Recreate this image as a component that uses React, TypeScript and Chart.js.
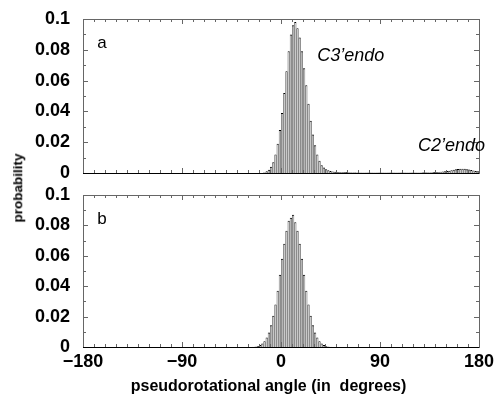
import React, { useEffect, useRef } from "react";
import { Chart, registerables } from "chart.js";

Chart.register(...registerables);

const FONT = '"Liberation Sans", Arial, Helvetica, sans-serif';

// Histogram bins are 2 degrees wide; each array lists bins from its first centre onward.
const BIN_WIDTH = 2;
const X_MIN = -180;
const X_MAX = 180;
const X_STEP = 90;
const Y_MAX = 0.1;
const Y_STEP = 0.02;

// Panel a: centres -15 .. 179
const firstBinA = -15;
const probA = [
  0.0005, 0.0011, 0.0021, 0.004, 0.007, 0.012, 0.019, 0.028, 0.039, 0.052,
  0.066, 0.079, 0.09, 0.096, 0.098, 0.094, 0.088, 0.079, 0.068, 0.057,
  0.045, 0.034, 0.025, 0.018, 0.012, 0.008, 0.005, 0.0035, 0.0025, 0.0018,
  0.0013, 0.001, 0.0008,
  // 51 .. 99
  0.0007, 0.0007, 0.0006, 0.0006, 0.0006, 0.0005, 0.0005, 0.0005, 0.0005, 0.0004,
  0.0004, 0.0004, 0.0004, 0.0004, 0.0004, 0.0003, 0.0003, 0.0003, 0.0003, 0.0003,
  0.0003, 0.0003, 0.0003, 0.0003, 0.0003,
  // 101 .. 139
  0.0003, 0.0003, 0.0003, 0.0003, 0.0003, 0.0003, 0.0003, 0.0003, 0.0004, 0.0004,
  0.0004, 0.0004, 0.0004, 0.0004, 0.0005, 0.0005, 0.0005, 0.0005, 0.0005, 0.0006,
  // 141 .. 179
  0.0006, 0.0007, 0.0008, 0.0009, 0.0011, 0.0013, 0.0015, 0.0018, 0.0021, 0.0024,
  0.0026, 0.0028, 0.0028, 0.0027, 0.0025, 0.0022, 0.0019, 0.0016, 0.0013, 0.0011,
];

// Panel b: centres -25 .. 45
const firstBinB = -25;
const probB = [
  0.0002, 0.0004, 0.0007, 0.0013, 0.0023, 0.0038, 0.0062, 0.0096, 0.0143, 0.0205,
  0.028, 0.037, 0.0475, 0.058, 0.068, 0.0765, 0.083, 0.085, 0.087, 0.082,
  0.0765, 0.068, 0.058, 0.0475, 0.037, 0.028, 0.0205, 0.0143, 0.0096, 0.0062,
  0.0038, 0.0023, 0.0013, 0.0007, 0.0004, 0.0002,
];

type Note = { text: string; x: number; y: number; font: string };

const notesA: Note[] = [
  { text: "a", x: -167, y: 0.081, font: `17px ${FONT}` },
  { text: "C3\u2019endo", x: 33, y: 0.0729, font: `italic 18px ${FONT}` },
  { text: "C2\u2019endo", x: 124.5, y: 0.0145, font: `italic 18px ${FONT}` },
];
const notesB: Note[] = [{ text: "b", x: -167, y: 0.081, font: `17px ${FONT}` }];

function toPoints(first: number, probs: number[]) {
  return probs.map((p, i) => ({ x: first + i * BIN_WIDTH, y: p }));
}

const fmtX = (v: number) => (v < 0 ? "\u2212" + Math.abs(v) : String(v));
const fmtY = (v: number) => String(Number(v.toFixed(2)));

// Keep the plot box exactly where the layout padding puts it.
const noOverhang = (s: any) => {
  s.paddingTop = 0;
  s.paddingBottom = 0;
  s.paddingLeft = 0;
  s.paddingRight = 0;
};

// Inward tick marks on all four sides plus the plot frame and panel notes.
const frameTicks = {
  id: "frameTicks",
  afterDatasetsDraw(chart: any) {
    const { ctx, chartArea, scales } = chart;
    const { left, right, top, bottom } = chartArea;
    const xs = scales.x;
    const ys = scales.y;
    ctx.save();
    ctx.lineWidth = 1;
    ctx.strokeStyle = "#666";
    ctx.beginPath();
    for (let a = X_MIN; a <= X_MAX; a += 10) {
      const px = Math.round(xs.getPixelForValue(a)) + 0.5;
      const len = a % X_STEP === 0 ? 5 : 3;
      ctx.moveTo(px, top);
      ctx.lineTo(px, top + len);
      ctx.moveTo(px, bottom);
      ctx.lineTo(px, bottom - len);
    }
    for (let i = 0; i <= 10; i++) {
      const py = Math.round(ys.getPixelForValue(i * 0.01)) + 0.5;
      const len = i % 2 === 0 ? 5 : 3;
      ctx.moveTo(left, py);
      ctx.lineTo(left + len, py);
      ctx.moveTo(right, py);
      ctx.lineTo(right - len, py);
    }
    ctx.stroke();
    ctx.strokeRect(Math.round(left) + 0.5, Math.round(top) + 0.5, Math.round(right - left), Math.round(bottom - top));
    ctx.strokeStyle = "#000";
    ctx.beginPath();
    ctx.moveTo(left, Math.round(bottom) + 0.5);
    ctx.lineTo(right, Math.round(bottom) + 0.5);
    ctx.stroke();
    ctx.restore();
  },
  afterDraw(chart: any) {
    const notes: Note[] = chart.options.plugins.frameTicks?.notes || [];
    const { ctx, scales } = chart;
    ctx.save();
    ctx.fillStyle = "#000";
    ctx.textAlign = "left";
    ctx.textBaseline = "alphabetic";
    for (const n of notes) {
      ctx.font = n.font;
      ctx.fillText(n.text, scales.x.getPixelForValue(n.x), scales.y.getPixelForValue(n.y));
    }
    ctx.restore();
  },
};

function histogramConfig(first: number, probs: number[], notes: Note[], bottomPanel: boolean, padTop: number, padBottom: number): any {
  return {
    type: "bar",
    data: {
      datasets: [
        {
          data: toPoints(first, probs),
          backgroundColor: "#c8c8c8",
          borderColor: "#000000",
          borderWidth: { top: 1, left: 0.6, right: 0.6, bottom: 0 },
          borderSkipped: false,
          inflateAmount: 0,
          barPercentage: 1,
          categoryPercentage: 1,
        },
      ],
    },
    options: {
      animation: false,
      responsive: true,
      maintainAspectRatio: false,
      layout: { padding: { left: 0, right: 16, top: padTop, bottom: padBottom } },
      plugins: {
        legend: { display: false },
        tooltip: { enabled: false },
        frameTicks: { notes },
      },
      scales: {
        x: {
          type: "linear",
          display: bottomPanel,
          min: X_MIN,
          max: X_MAX,
          offset: false,
          grid: { display: false, drawTicks: false, offset: false },
          border: { display: false },
          ticks: {
            stepSize: X_STEP,
            padding: 4,
            color: "#000",
            maxRotation: 0,
            font: { family: FONT, size: 18, weight: "bold" },
            callback: (v: number) => fmtX(v),
          },
          afterFit: (s: any) => {
            s.height = bottomPanel ? 51 : 0;
            noOverhang(s);
          },
        },
        y: {
          min: 0,
          max: Y_MAX,
          grid: { display: false, drawTicks: false },
          border: { display: false },
          ticks: {
            stepSize: Y_STEP,
            autoSkip: false,
            padding: 13,
            color: "#000",
            font: { family: FONT, size: 18, weight: "bold" },
            callback: (v: number) => fmtY(v),
          },
          afterFit: (s: any) => {
            s.width = 83;
            noOverhang(s);
          },
        },
      },
    },
    plugins: [frameTicks],
  };
}

const axisTitle: React.CSSProperties = {
  position: "absolute",
  whiteSpace: "nowrap",
  color: "#000",
  fontFamily: FONT,
  fontWeight: "bold",
  lineHeight: 1,
};

export default function App() {
  const topRef = useRef<HTMLCanvasElement>(null);
  const bottomRef = useRef<HTMLCanvasElement>(null);

  useEffect(() => {
    const chartA = new Chart(topRef.current!, histogramConfig(firstBinA, probA, notesA, false, 19, 22));
    const chartB = new Chart(bottomRef.current!, histogramConfig(firstBinB, probB, notesB, true, 20, 0));
    return () => {
      chartA.destroy();
      chartB.destroy();
    };
  }, []);

  return (
    <div style={{ position: "fixed", left: 0, top: 0, width: 495, height: 398, background: "#fff" }}>
      <div style={{ position: "absolute", left: 0, top: 175, width: 495, height: 223 }}>
        <canvas ref={bottomRef} />
      </div>
      <div style={{ position: "absolute", left: 0, top: 0, width: 495, height: 195 }}>
        <canvas ref={topRef} />
      </div>
      <div
        style={{
          ...axisTitle,
          left: 17.5,
          top: 188,
          fontSize: 13.5,
          transform: "translate(-50%, -50%) rotate(-90deg)",
        }}
      >
        probability
      </div>
      <div
        style={{
          ...axisTitle,
          left: 268.5,
          top: 386,
          fontSize: 16,
          transform: "translate(-50%, -50%)",
          whiteSpace: "pre",
        }}
      >
        {"pseudorotational angle (in  degrees)"}
      </div>
    </div>
  );
}
